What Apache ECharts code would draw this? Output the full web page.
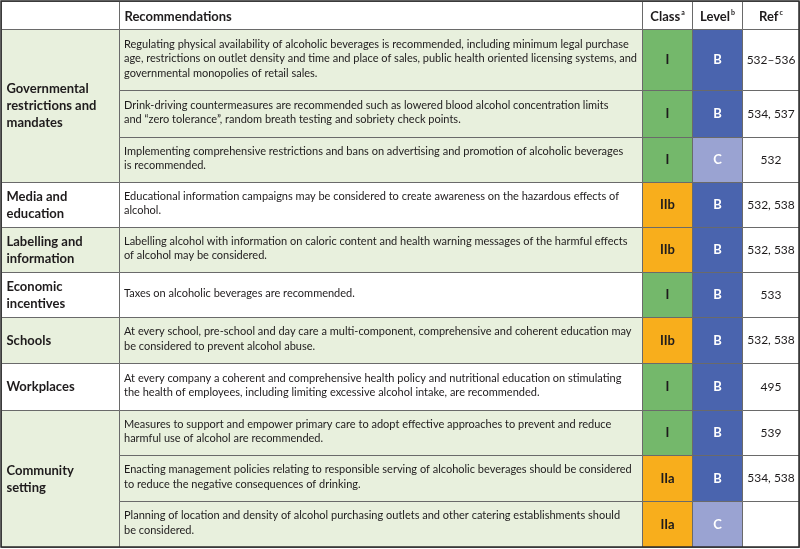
<!DOCTYPE html>
<html><head><meta charset="utf-8">
<script src="https://cdn.jsdelivr.net/npm/echarts@6/dist/echarts.min.js"></script>
<style>html,body{margin:0;padding:0;background:#fff}#c{width:800px;height:549px}</style>
</head><body><div id="c"></div>
<script>
// ---------- data ----------
const headers = ['', 'Recommendations', 'Class', 'Level', 'Ref'];
const headerSup = ['', '', 'a', 'b', 'c'];
const groups = ['Governmental\nrestrictions and\nmandates', 'Media and\neducation', 'Labelling and\ninformation', 'Economic\nincentives', 'Schools', 'Workplaces', 'Community\nsetting'];
const groupSpans = [3, 1, 1, 1, 1, 1, 3];
const recommendations = [
  'Regulating physical availability of alcoholic beverages is recommended, including minimum legal purchase\nage, restrictions on outlet density and time and place of sales, public health oriented licensing systems, and\ngovernmental monopolies of retail sales.',
  'Drink-driving countermeasures are recommended such as lowered blood alcohol concentration limits\nand \u201czero tolerance\u201d, random breath testing and sobriety check points.',
  'Implementing comprehensive restrictions and bans on advertising and promotion of alcoholic beverages\nis recommended.',
  'Educational information campaigns may be considered to create awareness on the hazardous effects of\nalcohol.',
  'Labelling alcohol with information on caloric content and health warning messages of the harmful effects\nof alcohol may be considered.',
  'Taxes on alcoholic beverages are recommended.',
  'At every school, pre-school and day care a multi-component, comprehensive and coherent education may\nbe considered to prevent alcohol abuse.',
  'At every company a coherent and comprehensive health policy and nutritional education on stimulating\nthe health of employees, including limiting excessive alcohol intake, are recommended.',
  'Measures to support and empower primary care to adopt effective approaches to prevent and reduce\nharmful use of alcohol are recommended.',
  'Enacting management policies relating to responsible serving of alcoholic beverages should be considered\nto reduce the negative consequences of drinking.',
  'Planning of location and density of alcohol purchasing outlets and other catering establishments should\nbe considered.'
];
const classes = ['I', 'I', 'I', 'IIb', 'IIb', 'I', 'IIb', 'I', 'I', 'IIa', 'IIa'];
const levels = ['B', 'B', 'C', 'B', 'B', 'B', 'B', 'B', 'B', 'B', 'C'];
const refs = ['532\u2013536', '534, 537', '532', '532, 538', '532, 538', '533', '532, 538', '495', '539', '534, 538', ''];

// ---------- layout / style ----------
const colEdges = [1, 119, 642, 692, 742, 799];
const rowEdges = [1, 29, 90, 137, 182, 227, 272, 317, 363, 410, 455, 501, 547];
const FONT = 'Lato, "Open Sans", sans-serif';
const C = {
  tint: '#e8f0dd', white: '#ffffff', text: '#1e1b1c',
  classI: '#74b86b', classII: '#f8ae1c', levelB: '#4a64ae', levelC: '#9aa3d2',
  grid: '#6a6a6a', outer: '#2b2b2b'
};

// build cell list from data arrays
const cells = [];
headers.forEach((h, c) => {
  cells.push({ c0: c, c1: c + 1, r0: 0, r1: 1, kind: 'header', text: h, sup: headerSup[c] });
});
let row = 1;
groups.forEach((g, gi) => {
  const tint = gi % 2 === 0;
  cells.push({ c0: 0, c1: 1, r0: row, r1: row + groupSpans[gi], kind: 'group', text: g, tint });
  for (let k = 0; k < groupSpans[gi]; k++) {
    const i = row - 1 + k;
    cells.push({ c0: 1, c1: 2, r0: row + k, r1: row + k + 1, kind: 'rec', text: recommendations[i], tint });
    cells.push({ c0: 2, c1: 3, r0: row + k, r1: row + k + 1, kind: 'class', text: classes[i] });
    cells.push({ c0: 3, c1: 4, r0: row + k, r1: row + k + 1, kind: 'level', text: levels[i] });
    cells.push({ c0: 4, c1: 5, r0: row + k, r1: row + k + 1, kind: 'ref', text: refs[i] });
  }
  row += groupSpans[gi];
});

const cellData = cells.map((d, i) => [colEdges[d.c0], rowEdges[d.r0], colEdges[d.c1], rowEdges[d.r1], i]);

function renderCell(params, api) {
  const p0 = api.coord([api.value(0), api.value(1)]);
  const p1 = api.coord([api.value(2), api.value(3)]);
  const d = cells[api.value(4)];
  let fill = C.white;
  if (d.kind === 'group' || d.kind === 'rec') fill = d.tint ? C.tint : C.white;
  if (d.kind === 'class') fill = d.text === 'I' ? C.classI : C.classII;
  if (d.kind === 'level') fill = d.text === 'B' ? C.levelB : C.levelC;
  const x0 = Math.round(p0[0]) + 0.5, y0 = Math.round(p0[1]) + 0.5;
  const x1 = Math.round(p1[0]) + 0.5, y1 = Math.round(p1[1]) + 0.5;
  const w = x1 - x0, h = y1 - y0;
  const children = [{
    type: 'rect', shape: { x: x0, y: y0, width: w, height: h },
    style: { fill, stroke: C.grid, lineWidth: 1 }
  }];
  const cx = x0 + w / 2, cy = y0 + h / 2;
  let ts;
  if (d.kind === 'header') {
    const centered = d.c0 >= 2;
    ts = {
      text: d.sup ? '{b|' + d.text + '}{s|' + d.sup + '}' : '{b|' + d.text + '}',
      x: centered ? cx : x0 + 5, y: cy + 1, align: centered ? 'center' : 'left', verticalAlign: 'middle',
      rich: {
        b: { fontFamily: FONT, fontSize: 13, fontWeight: 'bold', fill: C.text, lineHeight: 15 },
        s: { fontFamily: FONT, fontSize: 7, fontWeight: 'bold', fill: C.text, verticalAlign: 'top', lineHeight: 15, padding: [0, 0, 6, 1] }
      }
    };
  } else if (d.kind === 'group') {
    ts = { text: d.text, x: x0 + 5, y: cy, align: 'left', verticalAlign: 'middle',
      fontFamily: FONT, fontSize: 13, fontWeight: 'bold', fill: C.text, lineHeight: 17 };
  } else if (d.kind === 'rec') {
    ts = { text: d.text, x: x0 + 4.5, y: cy - 1.5, align: 'left', verticalAlign: 'middle',
      fontFamily: FONT, fontSize: 11, fill: C.text, lineHeight: 14.5 };
  } else if (d.kind === 'class') {
    ts = { text: d.text, x: cx, y: cy, align: 'center', verticalAlign: 'middle',
      fontFamily: FONT, fontSize: 13, fontWeight: 'bold', fill: C.text };
  } else if (d.kind === 'level') {
    ts = { text: d.text, x: cx, y: cy, align: 'center', verticalAlign: 'middle',
      fontFamily: FONT, fontSize: 13, fontWeight: 'bold', fill: '#ffffff' };
  } else {
    ts = { text: d.text, x: cx, y: cy, align: 'center', verticalAlign: 'middle',
      fontFamily: FONT, fontSize: 12, fill: C.text };
  }
  children.push({ type: 'text', style: ts });
  return { type: 'group', children };
}

function renderOuter(params, api) {
  const p0 = api.coord([api.value(0), api.value(1)]);
  const p1 = api.coord([api.value(2), api.value(3)]);
  return { type: 'rect', shape: { x: p0[0], y: p0[1], width: p1[0] - p0[0], height: p1[1] - p0[1] },
    style: { fill: 'none', stroke: C.outer, lineWidth: 1.5 } };
}

const chart = echarts.init(document.getElementById('c'), null, { renderer: 'canvas' });
chart.setOption({
  backgroundColor: '#ffffff',
  animation: false,
  grid: { left: 0, right: 0, top: 0, bottom: 0 },
  xAxis: { type: 'value', min: 0, max: 800, show: false },
  yAxis: { type: 'value', min: 0, max: 549, inverse: true, show: false },
  series: [
    { type: 'custom', renderItem: renderCell, data: cellData, silent: true },
    { type: 'custom', renderItem: renderOuter, silent: true,
      data: [[colEdges[0], rowEdges[0], colEdges[colEdges.length - 1], rowEdges[rowEdges.length - 1]]] }
  ]
});
</script></body></html>
